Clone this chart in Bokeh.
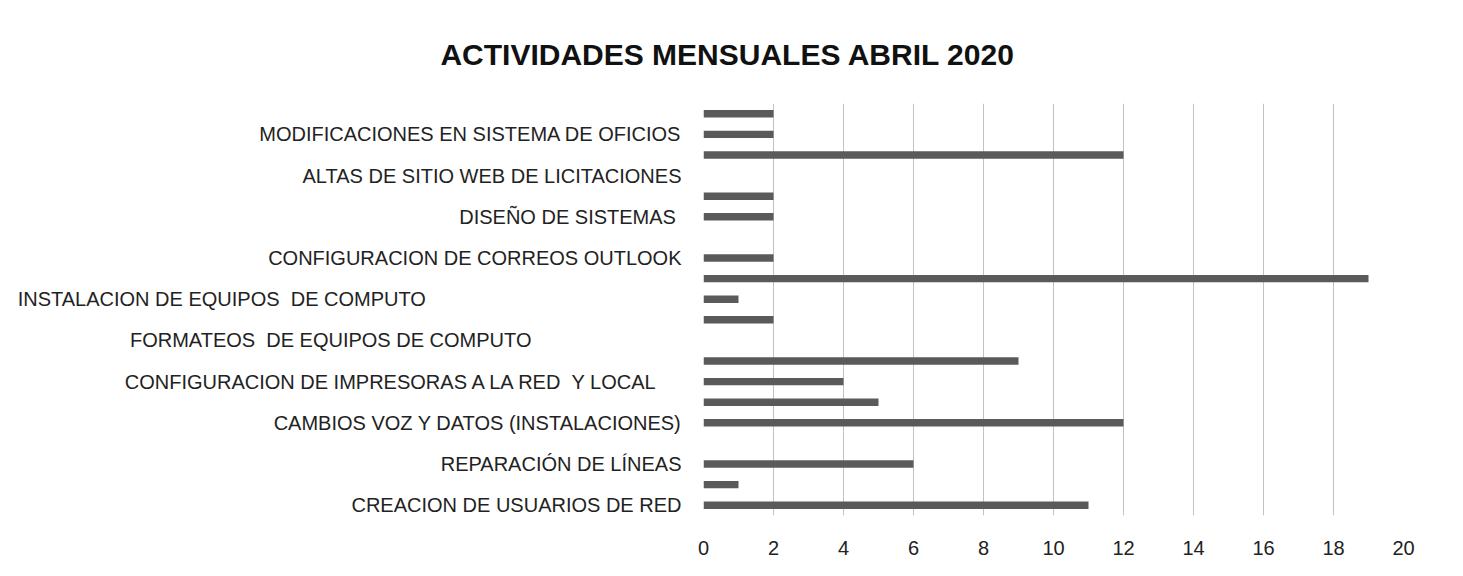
from bokeh.plotting import figure
from bokeh.models import FixedTicker, Range1d, ColumnDataSource
from bokeh.embed import file_html
from bokeh.resources import INLINE

# 20 categories from bottom to top; only every other one carries a visible label
values = [11, 1, 6, 0, 12, 5, 4, 9, 0, 2, 1, 19, 2, 0, 2, 2, 0, 12, 2, 2]
shown_labels = [
    "CREACION DE USUARIOS DE RED",
    "REPARACIÓN DE LÍNEAS",
    "CAMBIOS VOZ Y DATOS (INSTALACIONES)",
    "CONFIGURACION DE IMPRESORAS A LA RED  Y LOCAL",
    "FORMATEOS  DE EQUIPOS DE COMPUTO",
    "INSTALACION DE EQUIPOS  DE COMPUTO",
    "CONFIGURACION DE CORREOS OUTLOOK",
    "DISEÑO DE SISTEMAS",
    "ALTAS DE SITIO WEB DE LICITACIONES",
    "MODIFICACIONES EN SISTEMA DE OFICIOS",
]
x_ticks = [0, 2, 4, 6, 8, 10, 12, 14, 16, 18, 20]
title_text = "ACTIVIDADES MENSUALES ABRIL 2020"

# trailing blanks (approx. px) of labels that are not flush with the axis in the original
label_trailing_px = [0, 0, 0, 25, 150, 255, 0, 8, 0, 0]

LABEL_PX = 20
space_px = 0.278 * LABEL_PX

positions = list(range(1, len(values) + 1))
label_positions = positions[0::2]

src = ColumnDataSource(dict(y=positions, v=values))

p = figure(width=1447, height=560, output_backend="svg", toolbar_location=None,
           x_range=Range1d(0, 20), y_range=Range1d(0.5, len(values) + 0.5),
           min_border_left=703, min_border_right=44, min_border_top=103, min_border_bottom=45)
p.hbar(y="y", right="v", left=0, height=0.36, source=src,
       fill_color="#5a5a5a", line_color=None)

p.title.text = title_text
p.title.align = "right"
p.title.offset = 388
p.title.standoff = 66
p.title.text_font = "Liberation Sans"
p.title.text_font_style = "bold"
p.title.text_font_size = "30px"
p.title.text_color = "#111111"

p.xaxis.ticker = FixedTicker(ticks=x_ticks)
p.xgrid.ticker = FixedTicker(ticks=x_ticks)
p.xgrid.grid_line_color = "#c2c2c2"
p.ygrid.grid_line_color = None
p.yaxis.ticker = FixedTicker(ticks=label_positions)
p.yaxis.major_label_overrides = {
    pos: lab.replace("  ", " \u00a0") + "\u00a0" * round(pad / space_px)
    for pos, lab, pad in zip(label_positions, shown_labels, label_trailing_px)
}

for ax in (p.xaxis, p.yaxis):
    ax.axis_line_color = None
    ax.major_tick_line_color = None
    ax.minor_tick_line_color = None
    ax.major_label_text_font = "Liberation Sans"
    ax.major_label_text_color = "#222222"
    ax.major_label_text_font_size = f"{LABEL_PX}px"
p.xaxis.major_label_standoff = 19
p.yaxis.major_label_standoff = 16
p.outline_line_color = None

open("out.html", "w").write(file_html(p, INLINE))
